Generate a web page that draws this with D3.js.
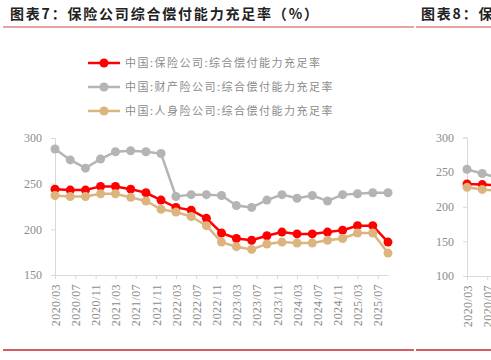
<!DOCTYPE html>
<html>
<head>
<meta charset="utf-8">
<script src="https://cdn.jsdelivr.net/npm/d3@7/dist/d3.min.js"></script>
<style>
  body { margin: 0; background: #fff; }
  svg { display: block; }
</style>
</head>
<body>
<script>
// data (quarter ends 2020/03 .. 2025/09)
var quarters = ['2020/03','2020/06','2020/09','2020/12','2021/03','2021/06','2021/09','2021/12',
  '2022/03','2022/06','2022/09','2022/12','2023/03','2023/06','2023/09','2023/12',
  '2024/03','2024/06','2024/09','2024/12','2025/03','2025/06','2025/09'];
var totalRatio    = [244,243,243,247,247,244,240,232,224,221,212,196,190,188,193,197,195,195,197,199,204,204,186];
var propertyRatio = [288,276,267,277,285,286,285,283,236,238,238,237,226,224,232,238,234,237,231,238,239,240,240];
var lifeRatio     = [237,236,236,239,239,235,231,222,219,214,204,186,181,178,184,186,185,185,188,190,196,196,174];

var seriesNames = ['中国:保险公司:综合偿付能力充足率', '中国:财产险公司:综合偿付能力充足率', '中国:人身险公司:综合偿付能力充足率'];
var seriesColors = ['#ff0000', '#b4b4b4', '#dcb47e'];

var tickLabels = ['2020/03','2020/07','2020/11','2021/03','2021/07','2021/11','2022/03','2022/07','2022/11',
  '2023/03','2023/07','2023/11','2024/03','2024/07','2024/11','2025/03','2025/07'];
var yTicks = [150, 200, 250, 300];

// neighbouring chart (图表8), only its left edge shows
var rightQuarters = ['2020/03','2020/06','2020/09'];
var rightTotal    = [233,232,231];
var rightProperty = [254,248,242];
var rightLife     = [228,225,223];
var rightYTicks = [100, 150, 200, 250, 300];

var parse = d3.timeParse('%Y/%m');

var svg = d3.select('body').append('svg')
  .attr('width', 491)
  .attr('height', 360);

// titles and rules
svg.append('text').text('图表7：保险公司综合偿付能力充足率（%）')
  .attr('x', 10).attr('y', 19)
  .style('font-family', '"Noto Sans CJK SC"')
  .style('font-size', '14px')
  .style('font-weight', 'bold')
  .style('letter-spacing', '1.8px')
  .style('fill', '#222')
svg.append('text').text('图表8：保')
  .attr('x', 421).attr('y', 19)
  .style('font-family', '"Noto Sans CJK SC"')
  .style('font-size', '14px')
  .style('font-weight', 'bold')
  .style('letter-spacing', '1.8px')
  .style('fill', '#222')

var rules = [[3, 414], [416, 491]];
rules.forEach(function(r) {
  svg.append('line').attr('x1', r[0]).attr('x2', r[1]).attr('y1', 27).attr('y2', 27)
    .attr('stroke', '#e8a3a3').attr('stroke-width', 2)
  svg.append('line').attr('x1', r[0]).attr('x2', r[1]).attr('y1', 350).attr('y2', 350)
    .attr('stroke', '#c3282e').attr('stroke-width', 1.5)
})
svg.append('text').text('资料来源：Wind，国家金融监督管理总局')
  .attr('x', 13).attr('y', 372)
  .style('font-family', '"Noto Sans CJK SC"').style('font-size', '12px').style('fill', '#444')
svg.append('text').text('资料来源：')
  .attr('x', 421).attr('y', 372)
  .style('font-family', '"Noto Sans CJK SC"').style('font-size', '12px').style('fill', '#444')

// legend
var legend = svg.append('g').attr('id', 'legend')
seriesNames.forEach(function(name, i) {
  var ly = 63 + i * 24;
  legend.append('line').attr('x1', 88).attr('x2', 120).attr('y1', ly).attr('y2', ly)
    .attr('stroke', seriesColors[i]).attr('stroke-width', 2.5)
  legend.append('circle').attr('cx', 104).attr('cy', ly).attr('r', 4.5).style('fill', seriesColors[i])
  legend.append('text').text(name)
    .attr('x', 125).attr('y', ly).attr('dy', '0.35em')
    .style('font-family', '"Noto Sans CJK SC"')
    .style('font-size', '11px')
    .style('letter-spacing', '1.5px')
    .style('fill', '#8c8c8c')
})

function drawChart(g, x, y, labels, dates, series, tickVals, axisLeftX) {
  var axisColor = '#d9d9d9', labelColor = '#8c8c8c';

  var ya = g.append('g').attr('transform', 'translate(' + axisLeftX + ',0)')
    .call(d3.axisLeft(y).tickValues(tickVals).tickSize(4).tickPadding(9).tickFormat(d3.format('d')))
  ya.select('.domain').attr('stroke', axisColor)
  ya.selectAll('.tick line').attr('stroke', axisColor)
  ya.selectAll('text').style('font-family', '"Liberation Serif"').style('font-size', '12px').style('fill', labelColor)

  var xa = g.append('g').attr('transform', 'translate(0,' + y.range()[0] + ')')
    .call(d3.axisBottom(x).tickValues(labels.map(parse)).tickSize(4).tickSizeOuter(0).tickFormat(d3.timeFormat('%Y/%m')))
  xa.select('.domain').attr('stroke', axisColor)
  xa.selectAll('.tick line').attr('stroke', axisColor)
  xa.selectAll('text')
    .attr('transform', 'rotate(-90)')
    .attr('x', -9).attr('y', 0).attr('dy', '0.35em')
    .style('text-anchor', 'end')
    .style('font-family', '"Liberation Serif"').style('font-size', '12px')
    .style('letter-spacing', '0.4px')
    .style('fill', labelColor)

  var line = d3.line().x(function(d) { return x(d.date); }).y(function(d) { return y(d.v); });
  series.forEach(function(s) {
    var pts = dates.map(function(q, i) { return { date: parse(q), v: s.values[i] }; });
    g.append('path').datum(pts).attr('d', line)
      .attr('fill', 'none').attr('stroke', s.color).attr('stroke-width', 2.5)
    g.selectAll('.pt').data(pts).enter().append('circle')
      .attr('cx', function(d) { return x(d.date); })
      .attr('cy', function(d) { return y(d.v); })
      .attr('r', 4.5)
      .style('fill', s.color)
  })
}

// main chart
var x = d3.scaleTime().domain([parse('2020/03'), parse('2025/09')]).range([55, 388]);
var y = d3.scaleLinear().domain([150, 300]).range([275, 138]);
drawChart(svg.append('g'), x, y, tickLabels, quarters, [
  { values: totalRatio, color: seriesColors[0] },
  { values: propertyRatio, color: seriesColors[1] },
  { values: lifeRatio, color: seriesColors[2] }
], yTicks, 55)

// right chart (cut at the window edge)
var xr = d3.scaleTime().domain([parse('2020/03'), parse('2025/09')]).range([467, 800]);
var yr = d3.scaleLinear().domain([100, 300]).range([276, 137.5]);
drawChart(svg.append('g'), xr, yr, tickLabels, rightQuarters, [
  { values: rightTotal, color: seriesColors[0] },
  { values: rightProperty, color: seriesColors[1] },
  { values: rightLife, color: seriesColors[2] }
], rightYTicks, 467)
</script>
</body>
</html>
